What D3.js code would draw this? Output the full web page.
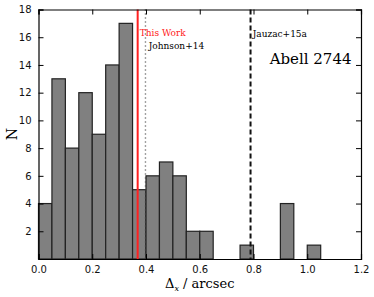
<!DOCTYPE html>
<html>
<head>
<meta charset="utf-8">
<script src="https://cdn.jsdelivr.net/npm/d3@7"></script>
<style>
  body { margin: 0; background: #fff; }
  .tick text { font-family: "DejaVu Sans", sans-serif; font-size: 10px; fill: #111; }
  .serif { font-family: "DejaVu Serif", serif; }
</style>
</head>
<body>
<div id="chart"></div>
<script>
// histogram bins (left edges) and counts
var binStart = [0.00, 0.05, 0.10, 0.15, 0.20, 0.25, 0.30, 0.35, 0.40, 0.45, 0.50,
                0.55, 0.60, 0.65, 0.70, 0.75, 0.80, 0.85, 0.90, 0.95, 1.00];
var counts   = [4, 13, 8, 12, 9, 14, 17, 5, 6, 7, 6,
                2, 2, 0, 0, 1, 0, 0, 4, 0, 1];
var binWidth = 0.05;

var xTicks = [0.0, 0.2, 0.4, 0.6, 0.8, 1.0, 1.2];
var yTicks = [2, 4, 6, 8, 10, 12, 14, 16, 18];

// reference lines
var refLines = [
    {name: "This Work",  x: 0.369, color: "#ff2020", dash: null,  width: 2},
    {name: "Johnson+14", x: 0.398, color: "#444",    dash: "1,3", width: 1.4},
    {name: "Jauzac+15a", x: 0.789, color: "#111",    dash: "5,3", width: 2}
];

var margin = {top: 9.5, right: 13, bottom: 38, left: 38.5},
    width = 374 - margin.left - margin.right,
    height = 297 - margin.top - margin.bottom;

var xScale = d3.scaleLinear().domain([0, 1.2]).range([0, width]);
var yScale = d3.scaleLinear().domain([0, 18]).range([height, 0]);

var svg = d3.select("#chart").append("svg")
    .attr("width", 374)
    .attr("height", 297);

var g = svg.append("g")
    .attr("transform", "translate(" + margin.left + "," + margin.top + ")");

// bars
g.selectAll(".bar")
    .data(counts.map(function(c, i) { return {x0: binStart[i], n: c}; })
        .filter(function(d) { return d.n > 0; }))
    .enter().append("rect")
    .attr("class", "bar")
    .attr("x", function(d) { return xScale(d.x0); })
    .attr("width", function(d) { return xScale(d.x0 + binWidth) - xScale(d.x0); })
    .attr("y", function(d) { return yScale(d.n); })
    .attr("height", function(d) { return yScale(0) - yScale(d.n); })
    .style("fill", "#808080")
    .style("stroke", "#222")
    .style("stroke-width", 1.2);

// vertical reference lines
g.selectAll(".ref")
    .data(refLines)
    .enter().append("line")
    .attr("class", "ref")
    .attr("x1", function(d) { return xScale(d.x); })
    .attr("x2", function(d) { return xScale(d.x); })
    .attr("y1", 0)
    .attr("y2", height)
    .style("stroke", function(d) { return d.color; })
    .style("stroke-width", function(d) { return d.width; })
    .style("stroke-dasharray", function(d) { return d.dash; });

// axes, ticks pointing inward on all four sides
var xAxis = d3.axisBottom(xScale).tickValues(xTicks).tickSize(-5).tickPadding(7)
    .tickFormat(d3.format(".1f"));
var xTop = d3.axisTop(xScale).tickValues(xTicks).tickSize(-5).tickFormat("");
var yAxis = d3.axisLeft(yScale).tickValues(yTicks).tickSize(-5).tickPadding(7)
    .tickFormat(d3.format("d"));
var yRight = d3.axisRight(yScale).tickValues(yTicks).tickSize(-5).tickFormat("");

g.append("g").attr("transform", "translate(0," + height + ")").call(xAxis);
g.append("g").call(xTop);
g.append("g").call(yAxis);
g.append("g").attr("transform", "translate(" + width + ",0)").call(yRight);

g.selectAll(".domain").style("stroke", "#000").style("stroke-width", 1.2);
g.selectAll(".tick line").style("stroke", "#000");

// labels
g.append("text").attr("class", "serif")
    .attr("x", xScale(0.377)).attr("y", 26)
    .style("font-size", "9px").style("fill", "#ff2020")
    .text("This Work");
g.append("text").attr("class", "serif")
    .attr("x", xScale(0.41)).attr("y", 39.5)
    .style("font-size", "9px")
    .text("Johnson+14");
g.append("text").attr("class", "serif")
    .attr("x", xScale(0.797)).attr("y", 27)
    .style("font-size", "9px")
    .text("Jauzac+15a");
g.append("text").attr("class", "serif")
    .attr("x", xScale(0.86)).attr("y", 54)
    .style("font-size", "15px")
    .text("Abell 2744");

// axis titles
svg.append("text").attr("class", "serif")
    .attr("transform", "translate(17,134) rotate(-90)")
    .style("text-anchor", "middle")
    .style("font-size", "14px")
    .text("N");

var xl = svg.append("text").attr("class", "serif")
    .attr("x", margin.left + width / 2)
    .attr("y", 288)
    .style("text-anchor", "middle")
    .style("font-size", "13px");
xl.append("tspan").text("Δ");
xl.append("tspan").attr("dy", 3).style("font-size", "8px").style("font-style", "italic").text("x");
xl.append("tspan").attr("dy", -3).text(" / arcsec");
</script>
</body>
</html>
